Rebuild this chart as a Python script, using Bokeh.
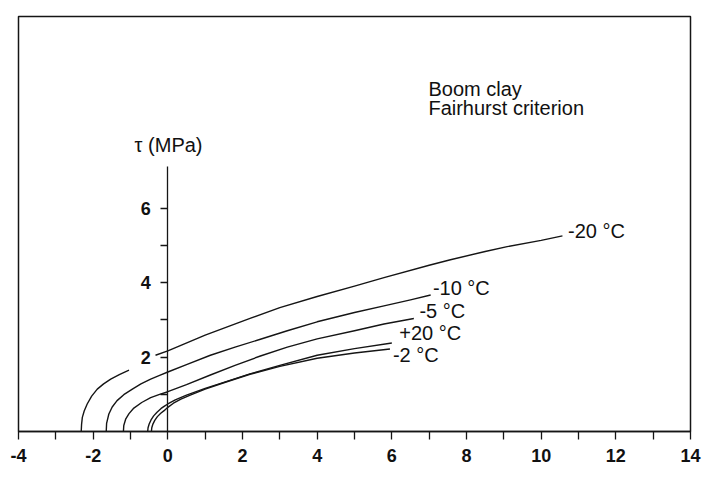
from bokeh.plotting import figure
from bokeh.models import Range1d, LinearAxis, FixedTicker, Label
from bokeh.core.properties import value
from bokeh.embed import file_html
from bokeh.resources import INLINE

nan = float("nan")

# ---- data (sigma, tau in MPa) ----
sig_m20 = [-2.32, -2.31, -2.29, -2.24, -2.16, -2.04, -1.89, -1.72, -1.53, -1.30, -1.04, nan,
           -0.33, 0.0, 1.0, 2.22, 3.0, 4.0, 5.0, 5.79, 7.0, 7.57, 8.5, 9.09, 10.0, 10.57]
tau_m20 = [0.0, 0.20, 0.38, 0.55, 0.74, 0.95, 1.14, 1.28, 1.41, 1.53, 1.65, nan,
           2.05, 2.17, 2.59, 3.05, 3.33, 3.63, 3.91, 4.14, 4.47, 4.62, 4.84, 4.97, 5.14, 5.26]

sig_m10 = [-1.65, -1.64, -1.58, -1.49, -1.36, -1.18, -0.95, -0.72, -0.46, -0.22, 0.0, 0.5,
           1.14, 1.8, 2.48, 3.2, 4.0, 5.0, 5.79, 6.5, 7.04]
tau_m10 = [0.0, 0.22, 0.47, 0.66, 0.83, 0.99, 1.14, 1.28, 1.41, 1.51, 1.60, 1.80,
           2.05, 2.27, 2.48, 2.71, 2.95, 3.20, 3.38, 3.54, 3.67]

sig_m5 = [-1.19, -1.18, -1.13, -1.04, -0.91, -0.70, -0.46, -0.22, 0.0, 0.5, 1.14, 1.8,
          2.48, 3.2, 4.0, 5.0, 5.79, 6.59]
tau_m5 = [0.0, 0.16, 0.33, 0.48, 0.63, 0.78, 0.91, 1.00, 1.07, 1.26, 1.52, 1.78,
          2.03, 2.27, 2.49, 2.71, 2.89, 3.04]

sig_p20 = [-0.54, -0.53, -0.50, -0.45, -0.38, -0.29, -0.18, -0.08, 0.0, 0.2, 0.5, 1.0, 1.5,
           2.2, 3.0, 4.0, 5.0, 6.0]
tau_p20 = [0.0, 0.10, 0.20, 0.31, 0.42, 0.52, 0.62, 0.69, 0.74, 0.85, 0.98, 1.16, 1.32,
           1.55, 1.78, 2.05, 2.23, 2.38]

sig_m2 = [-0.44, -0.43, -0.40, -0.35, -0.28, -0.19, -0.10, 0.0, 0.15, 0.35, 0.6, 1.0, 1.5,
          2.2, 3.0, 4.0, 5.0, 5.95]
tau_m2 = [0.0, 0.10, 0.20, 0.30, 0.40, 0.49, 0.56, 0.65, 0.76, 0.87, 0.98, 1.14, 1.31,
          1.54, 1.75, 1.97, 2.11, 2.22]

curve_names = ["-20 °C", "-10 °C", "-5 °C", "+20 °C", "-2 °C"]
label_sig = [10.72, 7.10, 6.74, 6.20, 6.03]
label_tau = [5.39, 3.85, 3.24, 2.66, 2.06]

x_ticks = [-4, -2, 0, 2, 4, 6, 8, 10, 12, 14]
x_minor = [-3, -1, 1, 3, 5, 7, 9, 11, 13]
y_ticks = [2, 4, 6]
y_minor = [1, 3, 5]

FONT = "Liberation Sans"
INK = "#151515"

p = figure(width=704, height=493, output_backend="svg", toolbar_location=None,
           x_range=Range1d(-4, 14), y_range=Range1d(0, 11.16),
           y_axis_location=None,
           min_border_left=18, min_border_right=14, min_border_top=16, min_border_bottom=62)
p.grid.visible = False
p.outline_line_color = INK
p.outline_line_width = 1.5
p.background_fill_color = "white"
p.border_fill_color = "white"

xa = p.xaxis[0]
xa.ticker = FixedTicker(ticks=x_ticks, minor_ticks=x_minor)
xa.major_label_overrides = {t: str(t) for t in x_ticks}
xa.major_tick_in = 0
xa.major_tick_out = 8
xa.minor_tick_in = 0
xa.minor_tick_out = 8
xa.axis_line_width = 1.5
xa.axis_line_color = INK
xa.major_tick_line_color = INK
xa.minor_tick_line_color = INK
xa.major_tick_line_width = 1.3
xa.minor_tick_line_width = 1.3
xa.major_label_text_font = FONT
xa.major_label_text_font_size = "18px"
xa.major_label_text_font_style = "bold"
xa.major_label_text_color = "#111111"
xa.major_label_standoff = 9

ya = LinearAxis(fixed_location=0, bounds=(0, 7.13),
                ticker=FixedTicker(ticks=y_ticks, minor_ticks=y_minor))
ya.major_tick_in = 0
ya.major_tick_out = 7
ya.minor_tick_in = 0
ya.minor_tick_out = 7
ya.axis_line_width = 1.3
ya.axis_line_color = INK
ya.major_tick_line_color = INK
ya.minor_tick_line_color = INK
ya.major_tick_line_width = 1.3
ya.minor_tick_line_width = 1.3
ya.major_label_text_font = FONT
ya.major_label_text_font_size = "18px"
ya.major_label_text_font_style = "bold"
ya.major_label_text_color = "#111111"
ya.major_label_standoff = 10
p.add_layout(ya, "left")

for xs, ys in [(sig_m20, tau_m20), (sig_m10, tau_m10), (sig_m5, tau_m5),
               (sig_p20, tau_p20), (sig_m2, tau_m2)]:
    p.line(xs, ys, line_color=INK, line_width=1.4, line_join="round")

p.text(x=label_sig, y=label_tau, text=curve_names, text_font=value(FONT),
       text_font_size="20px", text_baseline="middle", text_align="left", text_color="#111111")

for txt, yy in [("Boom clay", 9.21), ("Fairhurst criterion", 8.70)]:
    p.add_layout(Label(x=6.98, y=yy, text=txt, text_font=FONT, text_font_size="20px",
                       text_baseline="alphabetic", text_align="left", text_color="#111111"))

p.add_layout(Label(x=-0.89, y=7.71, text="τ (MPa)", text_font=FONT, text_font_size="20px",
                   text_baseline="middle", text_align="left", text_color="#111111"))
p.add_layout(Label(x=14.14, y=-1.33, text="σ (MPa)", text_font=FONT, text_font_size="20px",
                   text_baseline="middle", text_align="right", text_color="#111111"))

open("out.html", "w").write(file_html(p, INLINE))
